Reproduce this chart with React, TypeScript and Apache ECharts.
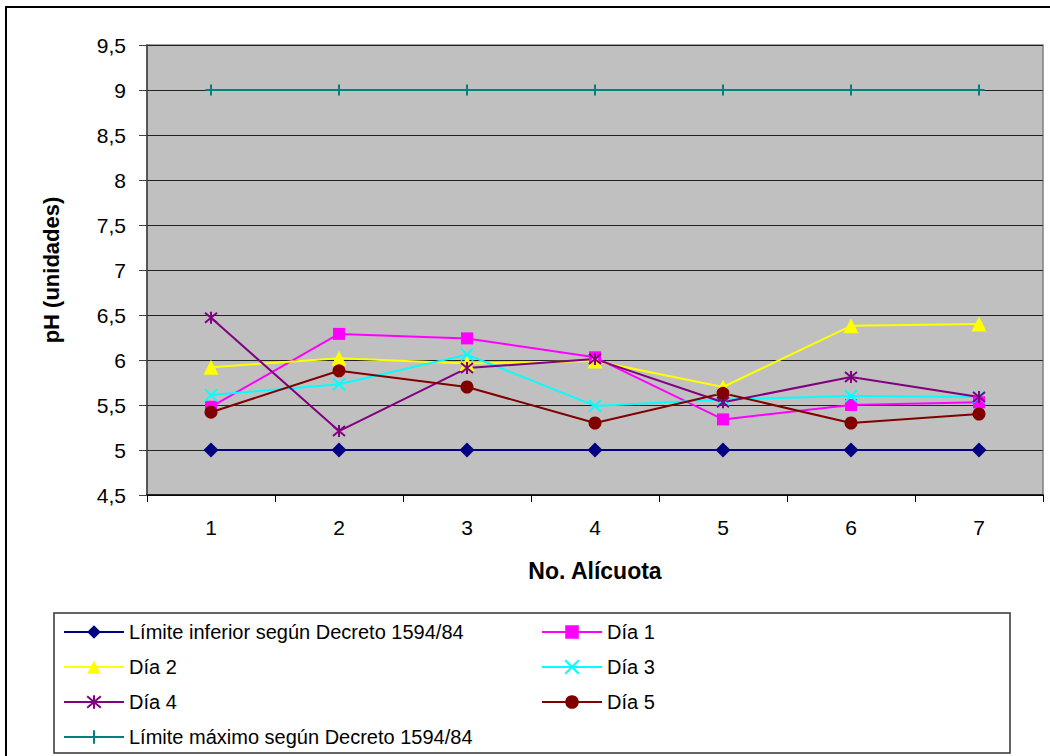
import React, { useEffect, useRef } from "react";
import * as echarts from "echarts";

const categories = ["1", "2", "3", "4", "5", "6", "7"];
const limiteInferior = [5, 5, 5, 5, 5, 5, 5];
const dia1 = [5.48, 6.29, 6.24, 6.03, 5.34, 5.5, 5.53];
const dia2 = [5.92, 6.02, 5.96, 5.99, 5.7, 6.38, 6.4];
const dia3 = [5.61, 5.73, 6.06, 5.49, 5.56, 5.6, 5.59];
const dia4 = [6.47, 5.21, 5.91, 6.01, 5.53, 5.81, 5.59];
const dia5 = [5.42, 5.88, 5.7, 5.3, 5.63, 5.3, 5.4];
const limiteMaximo = [9, 9, 9, 9, 9, 9, 9];
const seriesNames = [
  "Límite inferior según Decreto 1594/84",
  "Día 1",
  "Día 2",
  "Día 3",
  "Día 4",
  "Día 5",
  "Límite máximo según Decreto 1594/84",
];

const FONT = "'Liberation Sans', Arial, sans-serif";

export default function App() {
  const ref = useRef<HTMLDivElement>(null);
  useEffect(() => {
    document.body.style.margin = "0";
    const chart = echarts.init(ref.current!, null, { renderer: "svg" });
    const mk = (
      name: string,
      data: number[],
      color: string,
      symbol: string,
      symbolSize: number,
      stroke = false
    ) => ({
      name,
      type: "line",
      data,
      symbol,
      symbolSize,
      showSymbol: true,
      lineStyle: { color, width: 2 },
      itemStyle: stroke
        ? { color, borderColor: color, borderWidth: 2 }
        : { color, borderWidth: 0 },
    });
    const xPath = "path://M0,0L10,10M10,0L0,10";
    const starPath = "path://M0,0L10,10M10,0L0,10M5,-1L5,11";
    const plusPath = "path://M5,0L5,10M0,5L10,5";
    chart.setOption({
      animation: false,
      textStyle: { fontFamily: FONT },
      graphic: [
        {
          type: "rect",
          shape: { x: 6, y: 7, width: 1100, height: 800 },
          style: { fill: "none", stroke: "#000", lineWidth: 2 },
          silent: true,
        },
        {
          type: "rect",
          shape: { x: 54, y: 613, width: 956, height: 140 },
          style: { fill: "none", stroke: "#333", lineWidth: 1.5 },
          silent: true,
        },
      ],
      grid: {
        left: 147,
        right: 7,
        top: 45,
        bottom: 261,
        show: true,
        backgroundColor: "#c0c0c0",
        borderColor: "#808080",
        borderWidth: 1.5,
      },
      legend: {
        data: seriesNames,
        left: 63,
        top: 622,
        width: 960,
        padding: 0,
        itemGap: 15,
        itemWidth: 60,
        itemHeight: 17,
        textStyle: {
          fontFamily: FONT,
          fontSize: 20,
          color: "#000",
          width: 397,
          lineHeight: 16,
          overflow: "truncate",
        },
      },
      xAxis: {
        type: "category",
        data: categories,
        boundaryGap: true,
        name: "No. Alícuota",
        nameLocation: "middle",
        nameGap: 64,
        nameTextStyle: {
          fontFamily: FONT,
          fontSize: 23,
          fontWeight: "bold",
          color: "#000",
        },
        axisLine: { lineStyle: { color: "#000", width: 1.5 } },
        axisTick: { show: true, length: 7, lineStyle: { color: "#000" } },
        axisLabel: { fontFamily: FONT, fontSize: 21, color: "#000", margin: 22 },
      },
      yAxis: {
        type: "value",
        min: 4.5,
        max: 9.5,
        interval: 0.5,
        name: "pH (unidades)",
        nameLocation: "middle",
        nameRotate: 90,
        nameGap: 85,
        nameTextStyle: {
          fontFamily: FONT,
          fontSize: 22,
          fontWeight: "bold",
          color: "#000",
        },
        axisLine: { show: true, lineStyle: { color: "#404040", width: 1.5 } },
        axisTick: { show: true, length: 8, lineStyle: { color: "#404040" } },
        axisLabel: {
          fontFamily: FONT,
          fontSize: 21,
          color: "#000",
          margin: 21,
          formatter: (v: number) => String(v).replace(".", ","),
        },
        splitLine: { show: true, lineStyle: { color: "#222", width: 1 } },
      },
      series: [
        mk(seriesNames[0], limiteInferior, "#000080", "diamond", 15),
        mk(seriesNames[1], dia1, "#ff00ff", "rect", 12),
        mk(seriesNames[2], dia2, "#ffff00", "triangle", 15),
        mk(seriesNames[3], dia3, "#00ffff", xPath, 12, true),
        mk(seriesNames[4], dia4, "#800080", starPath, 12, true),
        mk(seriesNames[5], dia5, "#800000", "circle", 13),
        mk(seriesNames[6], limiteMaximo, "#008080", plusPath, 11, true),
      ],
    });
    return () => chart.dispose();
  }, []);
  return <div ref={ref} style={{ width: 1050, height: 756 }} />;
}
